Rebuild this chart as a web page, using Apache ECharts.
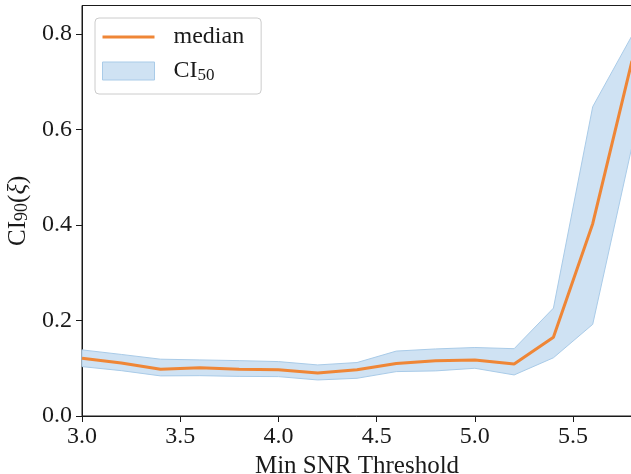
<!DOCTYPE html>
<html>
<head>
<meta charset="utf-8">
<script src="https://cdn.jsdelivr.net/npm/echarts@6/dist/echarts.min.js"></script>
<style>
  html, body { margin: 0; padding: 0; background: #fff; }
  #chart { width: 631px; height: 474px; }
</style>
</head>
<body>
<div id="chart"></div>
<script>
// Minimum SNR threshold values (x)
const snrThreshold = [3.0, 3.2, 3.4, 3.6, 3.8, 4.0, 4.2, 4.4, 4.6, 4.8, 5.0, 5.2, 5.4, 5.6, 5.8];
// Median CI90 width at each threshold
const medianCI = [0.121, 0.111, 0.098, 0.101, 0.098, 0.097, 0.090, 0.097, 0.110, 0.1155, 0.1175, 0.109, 0.165, 0.403, 0.744];
// 50% interval bounds of CI90
const ciLower = [0.1035, 0.095, 0.084, 0.0845, 0.083, 0.0825, 0.0755, 0.079, 0.093, 0.0945, 0.100, 0.086, 0.122, 0.192, 0.565];
const ciUpper = [0.1385, 0.129, 0.119, 0.1175, 0.116, 0.114, 0.107, 0.112, 0.136, 0.1405, 0.1435, 0.141, 0.226, 0.648, 0.797];
// Tick positions
const xTicks = [3.0, 3.5, 4.0, 4.5, 5.0, 5.5];
const yTicks = [0.0, 0.2, 0.4, 0.6, 0.8];

const FONT = 'Liberation Serif, DejaVu Serif, serif';
const INK = '#1a1a1a';
const ORANGE = '#ef8636';
const BAND_FILL = '#cfe2f3';
const BAND_EDGE = '#a9cbe8';

const bandRows = snrThreshold.map((x, i) => [x, ciLower[i], ciUpper[i]]);
const medianRows = snrThreshold.map((x, i) => [x, medianCI[i]]);

const chart = echarts.init(document.getElementById('chart'), null, { renderer: 'canvas' });

// The band is one closed polygon: upper edge left-to-right, lower edge back.
function renderBand(params, api) {
  if (params.dataIndex !== 0) return null;
  const upper = bandRows.map((r) => api.coord([r[0], r[2]]));
  const lower = bandRows.map((r) => api.coord([r[0], r[1]])).reverse();
  return {
    type: 'polygon',
    shape: { points: upper.concat(lower) },
    style: { fill: BAND_FILL, stroke: BAND_EDGE, lineWidth: 1 }
  };
}

chart.setOption({
  animation: false,
  backgroundColor: '#fff',
  grid: {
    left: 82, right: -1, top: 5.5, bottom: 58,
    outerBoundsMode: 'none',
    containLabel: false,
    show: true, borderColor: INK, borderWidth: 1, backgroundColor: 'transparent'
  },
  legend: {
    left: 95, top: 18,
    orient: 'vertical',
    selectedMode: false,
    itemWidth: 52,
    itemHeight: 18,
    itemGap: 8,
    padding: [6, 7, 10, 7],
    backgroundColor: 'rgba(255,255,255,0.8)',
    borderColor: '#cccccc',
    borderWidth: 1,
    borderRadius: 4,
    textStyle: {
      fontFamily: FONT, fontSize: 24, color: INK, lineHeight: 26,
      padding: [0, 10, 0, 14],
      rich: {
        s: { fontFamily: FONT, fontSize: 17, color: INK, verticalAlign: 'bottom' }
      }
    },
    formatter: (name) => name === 'CI50' ? 'CI{s|50}' : name,
    data: [
      { name: 'median', icon: 'path://M0,0h52v3h-52z', itemStyle: { color: ORANGE } },
      { name: 'CI50', icon: 'rect', itemStyle: { color: BAND_FILL, borderColor: BAND_EDGE, borderWidth: 1 } }
    ]
  },
  xAxis: {
    type: 'value',
    min: 3.0, max: 5.8,
    name: 'Min SNR Threshold',
    nameLocation: 'middle',
    nameGap: 35,
    nameTextStyle: { fontFamily: FONT, fontSize: 25, color: INK },
    axisLine: { show: true, lineStyle: { color: INK, width: 1 } },
    axisTick: { show: true, length: 6, lineStyle: { color: INK, width: 1 }, customValues: xTicks },
    axisLabel: {
      customValues: xTicks, margin: 9,
      fontFamily: FONT, fontSize: 24, color: INK,
      formatter: (v) => v.toFixed(1)
    },
    splitLine: { show: false }
  },
  yAxis: {
    type: 'value',
    min: 0, max: 0.86,
    name: 'CI{s|90}({i|ξ})',
    nameLocation: 'middle',
    nameGap: 45,
    nameTextStyle: {
      fontFamily: FONT, fontSize: 25, color: INK,
      rich: {
        s: { fontFamily: FONT, fontSize: 18, color: INK, verticalAlign: 'bottom' },
        i: { fontFamily: FONT, fontSize: 25, color: INK, fontStyle: 'italic' }
      }
    },
    axisLine: { show: true, lineStyle: { color: INK, width: 1 } },
    axisTick: { show: true, length: 6, lineStyle: { color: INK, width: 1 }, customValues: yTicks },
    axisLabel: {
      customValues: yTicks, margin: 10,
      fontFamily: FONT, fontSize: 24, color: INK,
      formatter: (v) => v.toFixed(1)
    },
    splitLine: { show: false }
  },
  series: [
    {
      name: 'CI50',
      type: 'custom',
      renderItem: renderBand,
      data: bandRows,
      encode: { x: 0, y: [1, 2] },
      itemStyle: { color: BAND_FILL },
      z: 1
    },
    {
      name: 'median',
      type: 'line',
      data: medianRows,
      symbol: 'none',
      showSymbol: false,
      lineStyle: { color: ORANGE, width: 3 },
      itemStyle: { color: ORANGE },
      z: 3
    }
  ]
});
</script>
</body>
</html>
